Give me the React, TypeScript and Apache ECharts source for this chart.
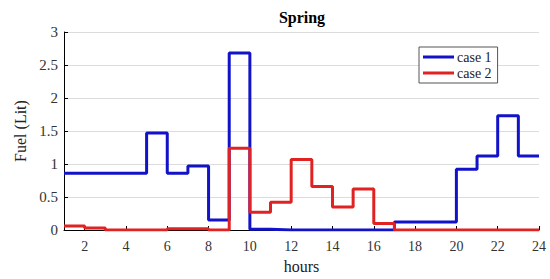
import React, { useEffect, useRef } from "react";
import * as echarts from "echarts";

const hours = [1, 2, 3, 4, 5, 6, 7, 8, 9, 10, 11, 12, 13, 14, 15, 16, 17, 18, 19, 20, 21, 22, 23, 24];
// value held over [h, h+1]; last entry is the end point at hour 24
const case1 = [0.86, 0.86, 0.86, 0.86, 1.47, 0.86, 0.97, 0.15, 2.68, 0.01, 0, 0, 0, 0, 0, 0, 0.12, 0.12, 0.12, 0.92, 1.12, 1.73, 1.12, 1.12];
const case2 = [0.06, 0.03, 0, 0, 0, 0.02, 0.02, 0, 1.24, 0.27, 0.42, 1.07, 0.66, 0.35, 0.62, 0.1, 0, 0, 0, 0, 0, 0, 0, 0];
const xTicks = [2, 4, 6, 8, 10, 12, 14, 16, 18, 20, 22, 24];
const seriesNames = ["case 1", "case 2"];

const FONT = "Liberation Serif";

export default function App() {
  const ref = useRef<HTMLDivElement>(null);
  useEffect(() => {
    if (!ref.current) return;
    const chart = echarts.init(ref.current, undefined, { renderer: "svg" });
    chart.setOption({
      animation: false,
      backgroundColor: "#ffffff",
      textStyle: { fontFamily: FONT },
      title: {
        text: "Spring",
        left: 302,
        textAlign: "center",
        top: 9,
        padding: 0,
        textStyle: { fontFamily: FONT, fontSize: 16, fontWeight: "bold", color: "#000" },
      },
      legend: {
        orient: "vertical",
        left: 419,
        top: 47,
        padding: [3, 6, 3, 4],
        itemGap: 2,
        itemWidth: 31,
        itemHeight: 3,
        icon: "rect",
        backgroundColor: "#fff",
        borderColor: "#555",
        borderWidth: 1,
        borderRadius: 0,
        textStyle: { fontFamily: FONT, fontSize: 14, color: "#222", padding: [0, 0, 0, -2] },
        data: seriesNames,
      },
      grid: { left: 64, right: 11, top: 32, bottom: 43, containLabel: false },
      xAxis: {
        type: "value",
        min: 1,
        max: 24,
        name: "hours",
        nameLocation: "middle",
        nameGap: 28,
        nameTextStyle: { fontFamily: FONT, fontSize: 16, color: "#222" },
        axisLine: { lineStyle: { color: "#000", width: 1 } },
        axisTick: { inside: true, length: 4, customValues: xTicks, lineStyle: { color: "#000" } },
        axisLabel: { customValues: xTicks, fontFamily: FONT, fontSize: 14, color: "#333", margin: 9 },
        splitLine: { show: false },
      },
      yAxis: {
        type: "value",
        min: 0,
        max: 3,
        interval: 0.5,
        name: "Fuel (Lit)",
        nameLocation: "middle",
        nameGap: 34,
        nameTextStyle: { fontFamily: FONT, fontSize: 16, color: "#222" },
        axisLine: { show: true, lineStyle: { color: "#000", width: 1 } },
        axisTick: { show: true, inside: true, length: 4, lineStyle: { color: "#000" } },
        axisLabel: { fontFamily: FONT, fontSize: 15, color: "#333", margin: 6 },
        splitLine: { show: true, lineStyle: { color: "#dcdcdc", width: 1 } },
      },
      series: [
        {
          name: seriesNames[0],
          type: "line",
          step: "end",
          showSymbol: false,
          symbol: "none",
          color: "#1212c8",
          lineStyle: { color: "#1212c8", width: 3 },
          data: hours.map((h, i) => [h, case1[i]]),
          z: 2,
        },
        {
          name: seriesNames[1],
          type: "line",
          step: "end",
          showSymbol: false,
          symbol: "none",
          color: "#e02222",
          lineStyle: { color: "#e02222", width: 3 },
          data: hours.map((h, i) => [h, case2[i]]),
          z: 3,
        },
      ],
    });
    return () => chart.dispose();
  }, []);
  return <div ref={ref} style={{ width: 550, height: 279, position: "absolute", left: 0, top: 0 }} />;
}
